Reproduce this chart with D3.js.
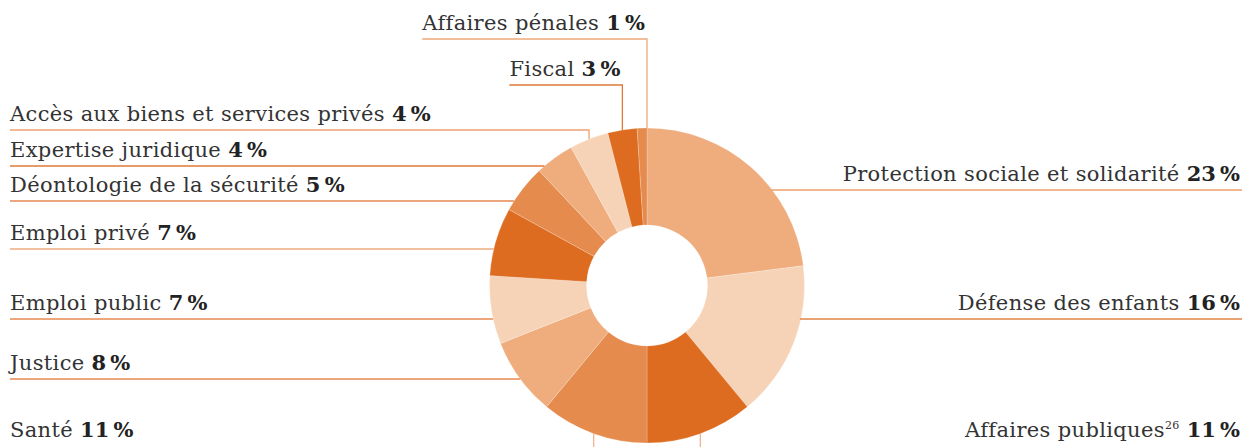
<!DOCTYPE html>
<html>
<head>
<meta charset="utf-8">
<script src="https://cdn.jsdelivr.net/npm/d3@7"></script>
<style>
  html, body { margin: 0; padding: 0; background: #fff; }
  svg { display: block; }
  .lab { font-family: "DejaVu Serif", serif; font-size: 21px; letter-spacing: 0.35px; fill: #333; }
  .pct { font-weight: bold; fill: #222; letter-spacing: 0; }
</style>
</head>
<body>
<svg id="chart" width="1250" height="447"></svg>
<script>
// ---- data ----
const categories = [
  "Protection sociale et solidarité",
  "Défense des enfants",
  "Affaires publiques",
  "Santé",
  "Justice",
  "Emploi public",
  "Emploi privé",
  "Déontologie de la sécurité",
  "Expertise juridique",
  "Accès aux biens et services privés",
  "Fiscal",
  "Affaires pénales"
];
const values = [23, 16, 11, 11, 8, 7, 7, 5, 4, 4, 3, 1];
const notes = ["", "", "26", "", "", "", "", "", "", "", "", ""];

// ---- styles / layout ----
const sliceColors = ["#EFAC7C", "#F6D3B6", "#DD6C20", "#E48B4D"];
const lineColors = ["#EE9F6A", "#E08444", "#EFB58C", "#EFB58C", "#E6884C", "#E68A50",
                    "#EEAE80", "#E38850", "#E07834", "#EFA070", "#E07A38", "#EEA978"];
// leader layout per category: type and y of underline
const layout = [
  {type: "right", y: 190},
  {type: "right", y: 319},
  {type: "bottomRight", y: 448},
  {type: "bottomLeft", y: 448},
  {type: "left", y: 379},
  {type: "left", y: 319},
  {type: "left", y: 249},
  {type: "left", y: 201},
  {type: "left", y: 166},
  {type: "elbow", y: 130},
  {type: "top", y: 85},
  {type: "top", y: 39}
];

const W = 1250, H = 447;
const cx = 647, cy = 285.5, R = 157.5, r0 = 60.5;
const leftX = 10, rightX = 1240, baseGap = 9.5;

const svg = d3.select("#chart");
const g = svg.append("g").attr("transform", `translate(${cx},${cy})`);

const pie = d3.pie().value(d => d).sort(null);
const arcs = pie(values);
const arc = d3.arc().innerRadius(r0).outerRadius(R);

g.selectAll("path.slice")
  .data(arcs)
  .join("path")
  .attr("class", "slice")
  .attr("d", arc)
  .attr("fill", (d, i) => sliceColors[i % 4])
  .attr("stroke", "rgba(255,255,255,0.35)")
  .attr("stroke-width", 0.6);

const lines = svg.append("g").attr("fill", "none").attr("stroke-width", 1.3);
const labels = svg.append("g");

function arcXatY(y, side) { // side -1 left, +1 right
  const dy = y - cy;
  return cx + side * Math.sqrt(Math.max(0, R * R - dy * dy));
}

arcs.forEach((a, i) => {
  const L = layout[i];
  const mid = (a.startAngle + a.endAngle) / 2;
  let px = cx + R * Math.sin(mid);
  const py = cy - R * Math.cos(mid);
  if (L.type === "top" && a.endAngle >= 2 * Math.PI - 1e-9 && values[i] <= 1) px = cx; // thin end slice: leader at its edge
  const col = lineColors[i];

  const t = labels.append("text").attr("class", "lab");
  t.append("tspan").text(categories[i]);
  if (notes[i]) {
    t.append("tspan").attr("font-size", "11px").attr("dy", -8).text(notes[i]);
    t.append("tspan").attr("dy", 8).text(" ");
  } else {
    t.append("tspan").text(" ");
  }
  t.append("tspan").attr("class", "pct").text(values[i] + "\u202F%");

  const baseY = L.y - baseGap;
  let pts;
  if (L.type === "left") {
    t.attr("x", leftX).attr("y", baseY).attr("text-anchor", "start");
    pts = [[leftX, L.y], [arcXatY(L.y, -1), L.y]];
  } else if (L.type === "right") {
    t.attr("x", rightX).attr("y", baseY).attr("text-anchor", "end");
    pts = [[arcXatY(L.y, 1) - 1, L.y], [rightX + 2, L.y]];
  } else if (L.type === "elbow") {
    t.attr("x", leftX).attr("y", baseY).attr("text-anchor", "start");
    pts = [[leftX, L.y], [px, L.y], [px, py]];
  } else if (L.type === "top") {
    t.attr("x", px - 2).attr("y", baseY).attr("text-anchor", "end");
    const w = t.node().getComputedTextLength();
    pts = [[px - 2 - w, L.y], [px, L.y], [px, py]];
  } else if (L.type === "bottomLeft") {
    t.attr("x", leftX).attr("y", baseY - 2).attr("text-anchor", "start");
    pts = [[leftX, L.y], [px, L.y], [px, py]];
  } else if (L.type === "bottomRight") {
    t.attr("x", rightX).attr("y", baseY - 2).attr("text-anchor", "end");
    pts = [[rightX + 2, L.y], [px, L.y], [px, py]];
  }
  lines.append("path")
    .attr("d", d3.line()(pts))
    .attr("stroke", col);
});
</script>
</body>
</html>
